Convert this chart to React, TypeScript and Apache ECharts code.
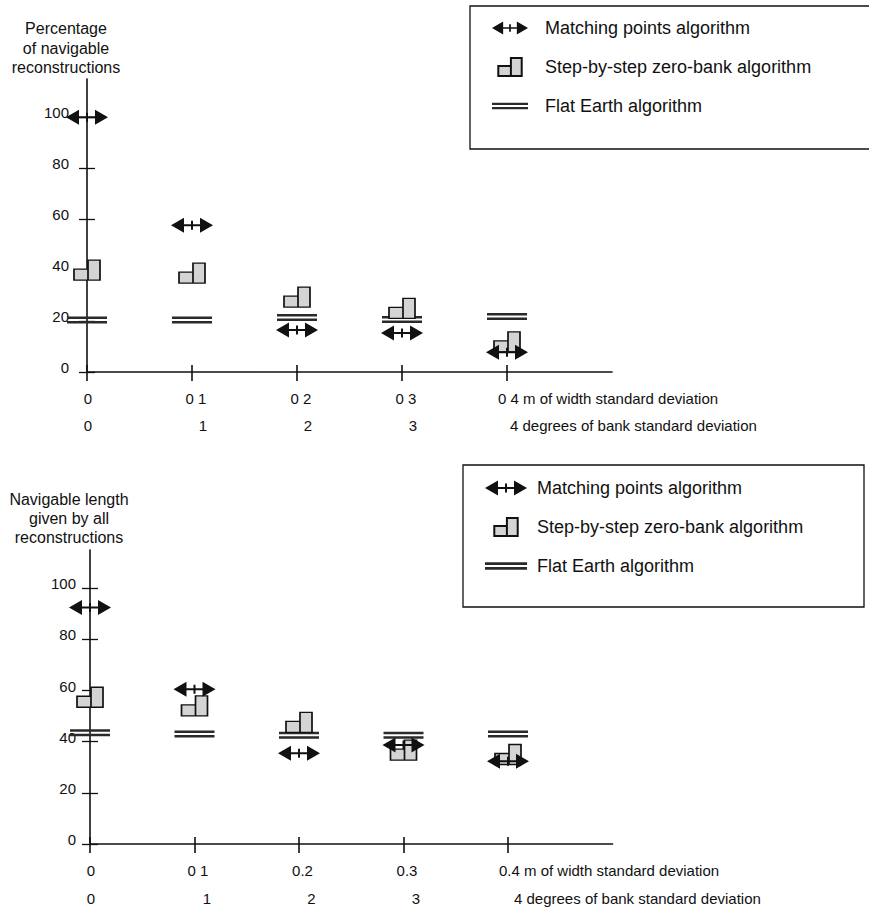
import React, { useEffect, useRef } from 'react';
import * as echarts from 'echarts';

const FONT = '"Liberation Sans", Arial, Helvetica, sans-serif';
const INK = '#111';

// x categories (standard deviations of width, m)
const xCategories = ['0', '0.1', '0.2', '0.3', '0.4'];
// tick label rows as printed
const widthTicksTop = ['0', '0 1', '0 2', '0 3', '0 4 m of width standard deviation'];
const widthTicksBottom = ['0', '0 1', '0.2', '0.3', '0.4 m of width standard deviation'];
const bankTicks = ['0', '1', '2', '3', '4 degrees of bank standard deviation'];
const yTicks = [0, 20, 40, 60, 80, 100];

const seriesNames = [
  'Matching points algorithm',
  'Step-by-step zero-bank algorithm',
  'Flat Earth algorithm',
];

// Top chart: percentage of navigable reconstructions
const matchingPct = [100, 57.6, 16.5, 15.3, 7.8];
const stepPct = [40, 38.8, 29.4, 25, 11.8];
const flatPct = [20.4, 20.4, 21.4, 20.6, 21.8];

// Bottom chart: navigable length given by all reconstructions
const matchingLen = [92.5, 60.5, 35.5, 38.7, 32.4];
const stepLen = [57.4, 54, 47.6, 36.7, 35];
const flatLen = [43.5, 43, 42.5, 42.5, 43];

const topTitle = 'Percentage\nof navigable\nreconstructions';
const bottomTitle = 'Navigable length\ngiven by all\nreconstructions';

const ARROW = 'path://M0,7.5L13,0L13,15Z M42,7.5L29,0L29,15Z M13,6.5L29,6.5L29,8.5L13,8.5Z M20,3L22,3L22,12L20,12Z';
const STEP = 'path://M0,9L14,9L14,0L26,0L26,20L0,20Z M14,9L14,20';
const FLAT = 'path://M0,0L40,0L40,2.5L0,2.5Z M0,4.5L40,4.5L40,7L0,7Z';

function catData(padMid: number, padFirst: number, lastAlign: string, lastPad: number) {
  const items: any[] = xCategories.map((c, i) => {
    if (i === xCategories.length - 1) {
      return { value: c, textStyle: { align: lastAlign, padding: [0, 0, 0, lastPad] } };
    }
    return { value: c, textStyle: { padding: [0, 0, 0, i === 0 ? padFirst : padMid] } };
  });
  items.push({ value: ' ' });
  return items;
}

const showFirstFive = (i: number) => i < xCategories.length;

function buildAxes(g: number, rowLabels: string[], cfg: any) {
  const lineStyle = { color: INK, width: 1.6 };
  const xA = {
    type: 'category',
    gridIndex: g,
    position: 'bottom',
    boundaryGap: false,
    data: catData(cfg.row1Pad, 2, 'left', cfg.row1Last),
    axisLine: { show: true, lineStyle },
    axisTick: { show: true, length: 9, interval: showFirstFive, lineStyle },
    axisLabel: {
      interval: showFirstFive,
      margin: cfg.row1Margin,
      fontSize: 15,
      color: INK,
      fontFamily: FONT,
      formatter: (_v: string, i: number) => rowLabels[i] ?? '',
    },
    splitLine: { show: false },
  };
  const xB = {
    type: 'category',
    gridIndex: g,
    position: 'bottom',
    boundaryGap: false,
    data: catData(cfg.row2Pad, 2, 'left', cfg.row2Last),
    axisLine: { show: false },
    axisTick: { show: true, inside: true, length: 7, interval: showFirstFive, lineStyle },
    axisLabel: {
      interval: showFirstFive,
      margin: cfg.row2Margin,
      fontSize: 15,
      color: INK,
      fontFamily: FONT,
      formatter: (_v: string, i: number) => bankTicks[i] ?? '',
    },
    splitLine: { show: false },
  };
  const yA = {
    type: 'value',
    gridIndex: g,
    position: 'left',
    min: 0,
    max: 115,
    splitLine: { show: false },
    axisLine: { show: true, lineStyle },
    axisTick: { show: true, length: 8, customValues: yTicks, lineStyle: { color: INK, width: 1.3 } },
    axisLabel: {
      customValues: yTicks,
      margin: cfg.yMargin,
      fontSize: 15,
      color: INK,
      fontFamily: FONT,
      verticalAlign: 'bottom',
      padding: [0, 0, -3, 0],
    },
  };
  const yB = {
    type: 'value',
    gridIndex: g,
    position: 'left',
    min: 0,
    max: 115,
    splitLine: { show: false },
    axisLine: { show: false },
    axisTick: { show: true, inside: true, length: 8, customValues: yTicks, lineStyle: { color: INK, width: 1.3 } },
    axisLabel: { show: false },
  };
  return { x: [xA, xB], y: [yA, yB] };
}

function buildSeries(xi: number, yi: number, match: number[], step: number[], flat: number[]) {
  return [
    {
      type: 'scatter',
      name: seriesNames[2],
      xAxisIndex: xi,
      yAxisIndex: yi,
      data: flat,
      symbol: FLAT,
      symbolSize: [40, 7],
      itemStyle: { color: '#2a2a2a', opacity: 1 },
      z: 2,
    },
    {
      type: 'scatter',
      name: seriesNames[1],
      xAxisIndex: xi,
      yAxisIndex: yi,
      data: step,
      symbol: STEP,
      symbolSize: [26, 20],
      itemStyle: { color: '#d4d4d4', borderColor: INK, borderWidth: 1.5, opacity: 1 },
      z: 3,
    },
    {
      type: 'scatter',
      name: seriesNames[0],
      xAxisIndex: xi,
      yAxisIndex: yi,
      data: match,
      symbol: ARROW,
      symbolSize: [42, 15],
      itemStyle: { color: INK, opacity: 1 },
      z: 4,
    },
  ];
}

function legend(left: number, top: number, itemWidth: number, textPad: number) {
  return {
    orient: 'vertical',
    left,
    top,
    padding: 0,
    itemWidth,
    itemHeight: 18,
    itemGap: 20,
    selectedMode: false,
    textStyle: { fontSize: 18, color: INK, fontFamily: FONT, padding: [0, 0, 0, textPad] },
    data: [
      { name: seriesNames[0], icon: ARROW },
      { name: seriesNames[1], icon: STEP },
      { name: seriesNames[2], icon: FLAT },
    ],
  };
}

export default function App() {
  const ref = useRef<HTMLDivElement>(null);
  useEffect(() => {
    document.body.style.margin = '0';
    const chart = echarts.init(ref.current as HTMLDivElement, undefined, { renderer: 'svg' });

    const topAxes = buildAxes(0, widthTicksTop, {
      row1Pad: 8, row1Last: -9, row2Pad: 22, row2Last: 3, row1Margin: 18.5, row2Margin: 45.5, yMargin: 18,
    });
    const botAxes = buildAxes(1, widthTicksBottom, {
      row1Pad: 7, row1Last: -9, row2Pad: 25, row2Last: 6, row1Margin: 18.5, row2Margin: 46.5, yMargin: 14,
    });

    const option: any = {
      animation: false,
      backgroundColor: '#ffffff',
      textStyle: { fontFamily: FONT },
      grid: [
        { left: 87, top: 79, width: 525, height: 293, outerBoundsMode: 'none', containLabel: false },
        { left: 90, top: 550, width: 522.5, height: 294, outerBoundsMode: 'none', containLabel: false },
      ],
      xAxis: [...topAxes.x, ...botAxes.x],
      yAxis: [...topAxes.y, ...botAxes.y],
      legend: [legend(492, 19, 36, 12), legend(485, 479, 42, 5)],
      series: [
        ...buildSeries(0, 0, matchingPct, stepPct, flatPct),
        ...buildSeries(2, 2, matchingLen, stepLen, flatLen),
      ],
      graphic: [
        {
          type: 'rect',
          silent: true,
          shape: { x: 470, y: 6, width: 420, height: 143 },
          style: { fill: 'none', stroke: INK, lineWidth: 1.3 },
        },
        {
          type: 'rect',
          silent: true,
          shape: { x: 463, y: 465, width: 401, height: 142 },
          style: { fill: 'none', stroke: INK, lineWidth: 1.3 },
        },
        {
          type: 'text',
          silent: true,
          x: 66,
          y: 48,
          style: {
            text: topTitle,
            align: 'center',
            verticalAlign: 'middle',
            fontSize: 16,
            lineHeight: 19.5,
            fontFamily: FONT,
            fill: INK,
          },
        },
        {
          type: 'text',
          silent: true,
          x: 69,
          y: 518,
          style: {
            text: bottomTitle,
            align: 'center',
            verticalAlign: 'middle',
            fontSize: 16,
            lineHeight: 19,
            fontFamily: FONT,
            fill: INK,
          },
        },
      ],
    };
    chart.setOption(option);
    return () => chart.dispose();
  }, []);
  return <div ref={ref} style={{ width: 869, height: 910, background: '#fff' }} />;
}
